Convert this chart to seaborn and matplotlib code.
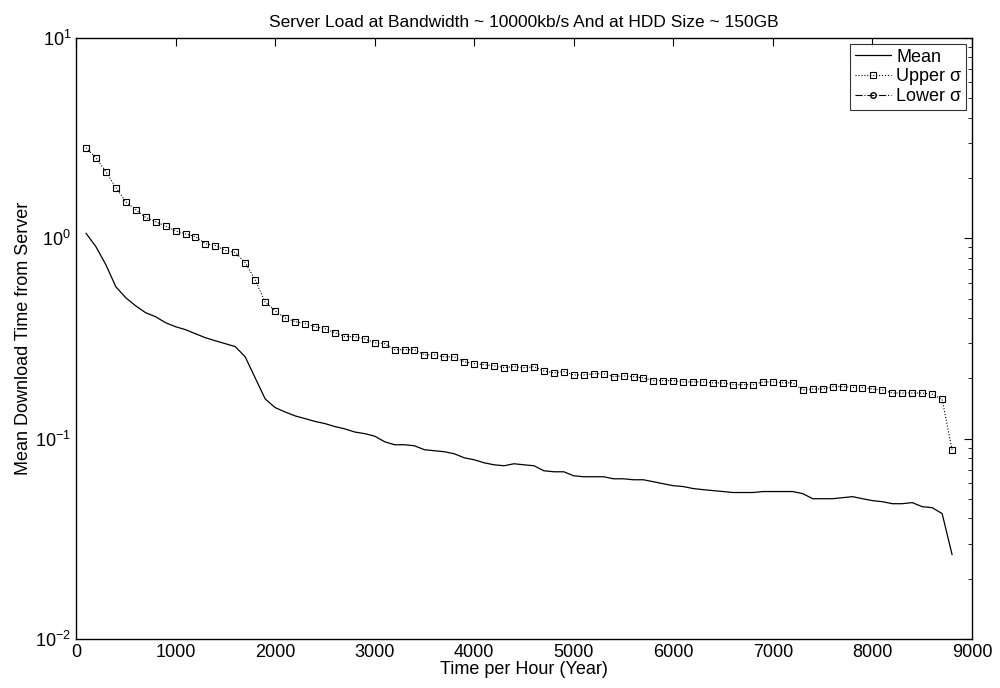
import matplotlib
matplotlib.use("Agg")
import matplotlib.pyplot as plt
import seaborn as sns
import pandas as pd

# hours of the year, one sample every 100 h
hours = list(range(100, 8900, 100))

mean_time = [
    1.06, 0.908, 0.738, 0.573, 0.505, 0.46, 0.425, 0.406, 0.379, 0.362,
    0.35, 0.334, 0.319, 0.308, 0.298, 0.288, 0.256, 0.201, 0.158, 0.143,
    0.136, 0.130, 0.126, 0.122, 0.119, 0.115, 0.112, 0.108, 0.106, 0.103,
    0.0966, 0.0933, 0.0933, 0.0922, 0.0881, 0.0871, 0.0861, 0.0841, 0.0803, 0.0785,
    0.0758, 0.0741, 0.0733, 0.075, 0.0741, 0.0733, 0.0692, 0.0684, 0.0684, 0.0653,
    0.0646, 0.0646, 0.0646, 0.0631, 0.0631, 0.0624, 0.0624, 0.061, 0.0596, 0.0583,
    0.0577, 0.0564, 0.0557, 0.0551, 0.0545, 0.0539, 0.0539, 0.0539, 0.0545, 0.0545,
    0.0545, 0.0545, 0.0532, 0.0502, 0.0502, 0.0502, 0.0508, 0.0514, 0.0502, 0.0491,
    0.0485, 0.0474, 0.0474, 0.048, 0.0458, 0.0453, 0.0423, 0.0264,
]

upper_sigma = [
    2.83, 2.52, 2.15, 1.79, 1.52, 1.39, 1.27, 1.21, 1.15, 1.09,
    1.05, 1.02, 0.94, 0.92, 0.87, 0.85, 0.755, 0.62, 0.48, 0.435,
    0.40, 0.384, 0.375, 0.362, 0.354, 0.338, 0.323, 0.323, 0.315, 0.301,
    0.298, 0.278, 0.278, 0.278, 0.262, 0.262, 0.256, 0.256, 0.242, 0.237,
    0.234, 0.231, 0.226, 0.229, 0.226, 0.229, 0.218, 0.213, 0.216, 0.208,
    0.208, 0.211, 0.211, 0.204, 0.206, 0.204, 0.201, 0.195, 0.195, 0.195,
    0.192, 0.192, 0.192, 0.190, 0.190, 0.186, 0.186, 0.186, 0.192, 0.192,
    0.190, 0.190, 0.175, 0.177, 0.177, 0.182, 0.182, 0.180, 0.180, 0.177,
    0.175, 0.169, 0.169, 0.169, 0.169, 0.167, 0.157, 0.088,
]

# lower sigma falls below zero, nothing shows on the log axis
lower_hours = []
lower_sigma = []

sns.set_style("white")
plt.rcParams["font.family"] = ["Liberation Sans", "DejaVu Sans"]
plt.rcParams["mathtext.fontset"] = "custom"
plt.rcParams["mathtext.rm"] = "Liberation Sans"
plt.rcParams["mathtext.it"] = "Liberation Sans:italic"
plt.rcParams["text.color"] = "black"
plt.rcParams["axes.labelcolor"] = "black"

df = pd.DataFrame({"hours": hours, "mean": mean_time, "upper": upper_sigma})

fig = plt.figure(figsize=(10, 6.88), dpi=100)
ax = fig.add_axes([0.076, 0.071, 0.896, 0.874])

sns.lineplot(data=df, x="hours", y="mean", ax=ax, color="black", lw=0.9,
             label="Mean")
sns.lineplot(data=df, x="hours", y="upper", ax=ax, color="black", lw=0.8,
             linestyle=":", marker="s", markersize=5, markerfacecolor="none",
             markeredgecolor="black", markeredgewidth=0.8, label="Upper σ")
ax.plot(lower_hours, lower_sigma, color="black", lw=0.8, linestyle="-.",
        marker="o", markersize=4, markerfacecolor="none", label="Lower σ")

ax.set_yscale("log")
ax.set_xlim(0, 9000)
ax.set_ylim(1e-2, 1e1)
ax.set_xticks(range(0, 9001, 1000))

ax.tick_params(axis="both", which="both", direction="in", top=True, right=True,
               labelsize=13, colors="black")
ax.tick_params(axis="both", which="major", length=6, width=0.8)
ax.tick_params(axis="y", which="minor", length=3, width=0.6)
ax.tick_params(axis="x", which="minor", bottom=False, top=False)
for s in ax.spines.values():
    s.set_visible(True)
    s.set_color("black")
    s.set_linewidth(1.0)

ax.set_title("Server Load at Bandwidth ~ 10000kb/s And at HDD Size ~ 150GB",
             fontsize=12.5, pad=8, color="black")
ax.set_xlabel("Time per Hour (Year)", fontsize=13, labelpad=0)
ax.set_ylabel("Mean Download Time from Server", fontsize=13, labelpad=2)

leg = ax.legend(loc="upper right", fontsize=13, frameon=True, fancybox=False,
                edgecolor="black", borderaxespad=0.35, handlelength=2.0,
                handletextpad=0.3, borderpad=0.25, labelspacing=0.15)
leg.get_frame().set_linewidth(0.8)
for t in leg.get_texts():
    t.set_color("black")

fig.savefig("out.png", dpi=100, facecolor="white")
